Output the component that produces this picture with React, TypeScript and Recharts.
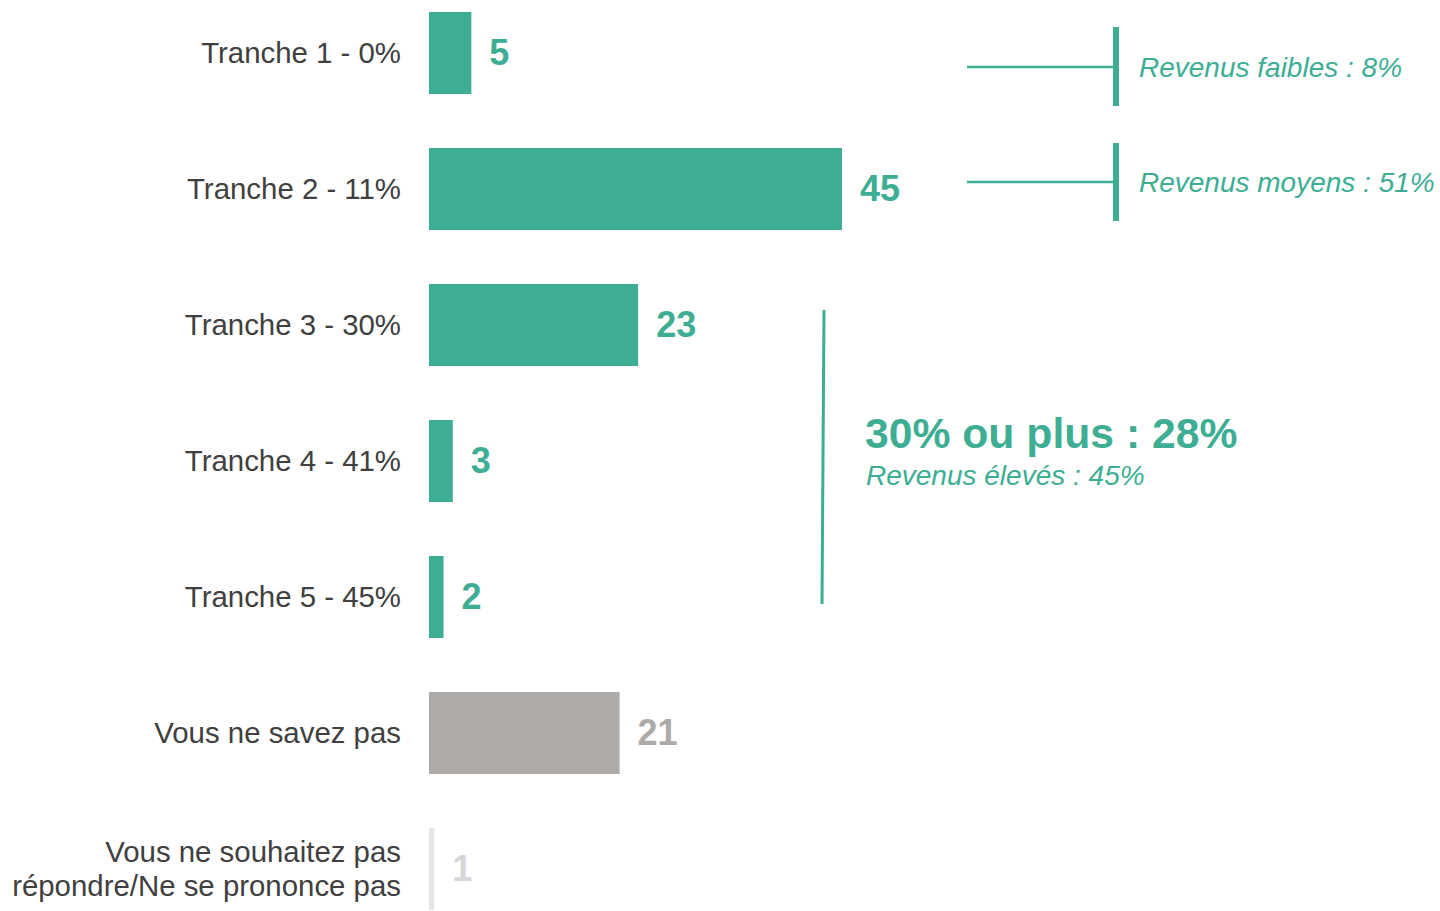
import { Bar, BarChart, Cell, LabelList, XAxis, YAxis } from "recharts";

// Répartition par tranche d'imposition (valeurs en %)
const categories = [
  "Tranche 1 - 0%",
  "Tranche 2 - 11%",
  "Tranche 3 - 30%",
  "Tranche 4 - 41%",
  "Tranche 5 - 45%",
  "Vous ne savez pas",
  "Vous ne souhaitez pas\nrépondre/Ne se prononce pas",
];
const values = [5, 45, 23, 3, 2, 21, 1];
const barColors = ["#3DAE93", "#3DAE93", "#3DAE93", "#3DAE93", "#3DAE93", "#ADAAA8", "#E6E5E5"];
const labelColors = ["#3DAE93", "#3DAE93", "#3DAE93", "#3DAE93", "#3DAE93", "#ADAAA8", "#D6D6D6"];

const groupLabels = ["Revenus faibles : 8%", "Revenus moyens : 51%"];
const highTitle = "30% ou plus : 28%";
const highSub = "Revenus élevés : 45%";

const data = categories.map((name, i) => ({ name, value: values[i] }));

const FONT = "'Liberation Sans', Arial, sans-serif";
const GREEN = "#3DAE93";

// le trait blanc de l'axe masque les 4 premiers px de chaque barre
function GapBar(props: any) {
  const { x, y, width, height, fill } = props;
  const w = Math.max(width - 4, 0);
  return <rect x={x + 4} y={y} width={w} height={height} fill={fill} />;
}

function CategoryTick({ x, y, payload }: any) {
  const lines = String(payload.value).split("\n");
  const lh = 34;
  const start = -((lines.length - 1) * lh) / 2 - 1.5;
  return (
    <text
      x={x}
      y={y}
      textAnchor="end"
      fill="#404040"
      fontSize={29.4}
      fontFamily={FONT}
      dominantBaseline="central"
    >
      {lines.map((l, i) => (
        <tspan key={i} x={401} dy={i === 0 ? start : lh}>
          {l}
        </tspan>
      ))}
    </text>
  );
}

function ValueLabel(props: any) {
  const { x, y, width, height, value, index } = props;
  return (
    <text
      x={x + width + 18}
      y={y + height / 2 - 1}
      fill={labelColors[index]}
      fontSize={36}
      fontWeight="bold"
      fontFamily={FONT}
      dominantBaseline="central"
    >
      {value}
    </text>
  );
}

export default function App() {
  return (
    <div
      style={{
        position: "absolute",
        left: 0,
        top: 0,
        width: 1440,
        height: 911,
        overflow: "hidden",
        background: "#fff",
      }}
    >
      <div style={{ position: "absolute", left: 0, top: -15 }}>
        <BarChart
          width={1440}
          height={952}
          data={data}
          layout="vertical"
          margin={{ top: 0, right: 598, bottom: 0, left: 0 }}
        >
          <XAxis type="number" domain={[0, 45]} hide />
          <YAxis
            type="category"
            dataKey="name"
            width={425}
            axisLine={false}
            tickLine={false}
            tick={<CategoryTick />}
            interval={0}
          />
          <Bar dataKey="value" barSize={82} shape={<GapBar />} isAnimationActive={false}>
            {data.map((d, i) => (
              <Cell key={d.name} fill={barColors[i]} />
            ))}
            <LabelList dataKey="value" content={<ValueLabel />} />
          </Bar>
        </BarChart>
      </div>
      <svg
        width={1440}
        height={911}
        style={{ position: "absolute", left: 0, top: 0, pointerEvents: "none" }}
      >
        <line x1={967} y1={67} x2={1114} y2={67} stroke={GREEN} strokeWidth={2.5} />
        <line x1={1116} y1={27} x2={1116} y2={106} stroke={GREEN} strokeWidth={6} />
        <line x1={967} y1={182} x2={1114} y2={182} stroke={GREEN} strokeWidth={2.5} />
        <line x1={1116} y1={143} x2={1116} y2={221} stroke={GREEN} strokeWidth={6} />
        <line x1={824} y1={310} x2={822} y2={604} stroke={GREEN} strokeWidth={3} />
        <text x={1139} y={67} fill={GREEN} fontSize={28} fontStyle="italic" fontFamily={FONT} dominantBaseline="central">
          {groupLabels[0]}
        </text>
        <text x={1139} y={182} fill={GREEN} fontSize={28} fontStyle="italic" fontFamily={FONT} dominantBaseline="central">
          {groupLabels[1]}
        </text>
        <text x={865} y={433} fill={GREEN} fontSize={42.7} fontWeight="bold" fontFamily={FONT} dominantBaseline="central">
          {highTitle}
        </text>
        <text x={866} y={475} fill={GREEN} fontSize={28} fontStyle="italic" fontFamily={FONT} dominantBaseline="central">
          {highSub}
        </text>
      </svg>
    </div>
  );
}
